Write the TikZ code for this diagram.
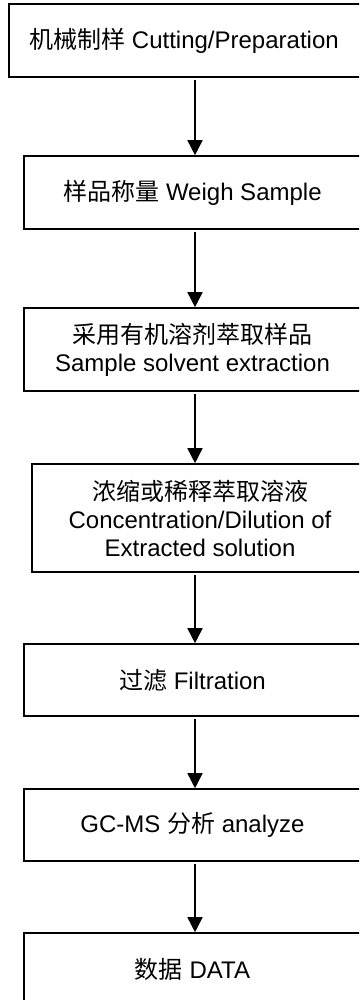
\documentclass[tikz,border=0pt]{standalone}
\usepackage{fontspec}
\setmainfont{Liberation Sans}
\newfontfamily\cjk{Noto Sans CJK SC}
\usetikzlibrary{arrows.meta}
\tikzset{
  box/.style={draw=black, line width=1.6pt, rectangle, align=center, inner sep=0pt,
    font=\fontsize{24}{28}\selectfont, text=black},
  arr/.style={line width=1.6pt, -{Triangle[width=15pt,length=15pt]}, shorten <=2pt}
}
\begin{document}
\begin{tikzpicture}[x=1pt,y=-1pt]
\useasboundingbox (0,0) rectangle (359,1000);
\fill[white] (0,0) rectangle (359,1000);
\clip (0,0) rectangle (359,1000);
\coordinate (ax) at (195,0);
\node[box, minimum width=362pt, minimum height=73pt] (b1) at (190,40.5) {};
\node (t1) at (184,41) {\fontsize{24}{28}\selectfont{\cjk 机械制样} Cutting/Preparation};
\node[box, minimum width=337pt, minimum height=73pt] (b2) at (192.5,192.5) {{\cjk 样品称量} Weigh Sample};
\node[box, minimum width=337pt, minimum height=83pt] (b3) at (192.5,349.5) {{\cjk 采用有机溶剂萃取样品}\\Sample solvent extraction};
\node[box, minimum width=336pt, minimum height=108pt] (b4) at (200,518) {{\cjk 浓缩或稀释萃取溶液}\\Concentration/Dilution of\\Extracted solution};
\node[box, minimum width=337pt, minimum height=72pt] (b5) at (192.5,680) {{\cjk 过滤} Filtration};
\node[box, minimum width=337pt, minimum height=72pt] (b6) at (192.5,825) {GC-MS {\cjk 分析} analyze};
\node[box, minimum width=337pt, minimum height=72pt] (b7) at (192.5,969) {{\cjk 数据} DATA};
\draw[arr] (b1.south -| ax) -- (b2.north -| ax);
\draw[arr] (b2.south -| ax) -- (b3.north -| ax);
\draw[arr] (b3.south -| ax) -- (b4.north -| ax);
\draw[arr] (b4.south -| ax) -- (b5.north -| ax);
\draw[arr] (b5.south -| ax) -- (b6.north -| ax);
\draw[arr] (b6.south -| ax) -- (b7.north -| ax);
\end{tikzpicture}
\end{document}
